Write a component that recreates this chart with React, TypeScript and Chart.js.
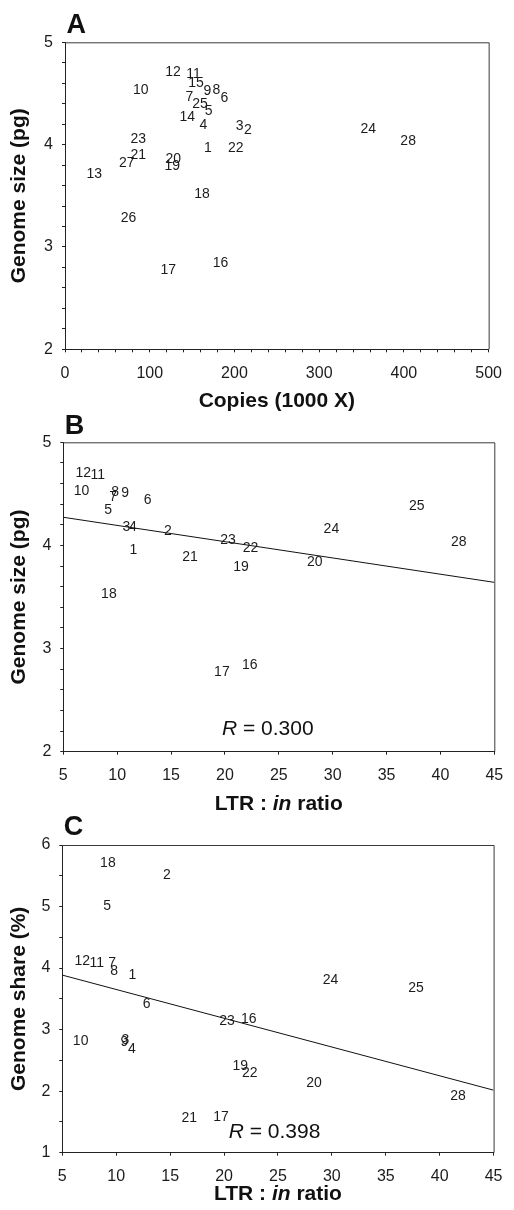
import React, { useEffect, useRef } from "react";
import { Chart, registerables } from "chart.js";

Chart.register(...registerables);

const FONT = '"Liberation Sans", Arial, Helvetica, sans-serif';
const INK = "#1c1c1c";

// ---------- Panel A: copies vs genome size ----------
const idsA = [1, 2, 3, 4, 5, 6, 7, 8, 9, 10, 11, 12, 13, 14, 15, 16, 17, 18, 19, 20, 21, 22, 23, 24, 25, 26, 27, 28];
const copiesA = [168.5, 215.8, 206.2, 163.2, 169.4, 188, 146.7, 178.6, 168, 89.5, 151.7, 127.5, 34.6, 144.4, 154.7, 183.5, 121.8, 161.6, 126.7, 127.9, 86.4, 201.6, 86.4, 358, 159.4, 74.9, 73, 405];
const sizeA = [3.97, 4.14, 4.18, 4.19, 4.33, 4.45, 4.46, 4.53, 4.52, 4.53, 4.69, 4.71, 3.71, 4.27, 4.6, 2.84, 2.77, 3.52, 3.79, 3.86, 3.9, 3.97, 4.05, 4.15, 4.4, 3.28, 3.82, 4.03];

// ---------- Panels B & C: LTR : in ratio ----------
const idsBC = [1, 2, 3, 4, 5, 6, 7, 8, 9, 10, 11, 12, 16, 17, 18, 19, 20, 21, 22, 23, 24, 25, 28];
const ratioBC = [11.5, 14.7, 10.85, 11.46, 9.16, 12.83, 9.62, 9.8, 10.75, 6.7, 8.2, 6.85, 22.3, 19.72, 9.23, 21.5, 28.34, 16.77, 22.38, 20.28, 29.88, 37.8, 41.7];
const sizeB = [3.955, 4.14, 4.18, 4.18, 4.34, 4.44, 4.47, 4.52, 4.51, 4.53, 4.68, 4.705, 2.84, 2.77, 3.53, 3.79, 3.84, 3.89, 3.97, 4.05, 4.16, 4.385, 4.03];
const shareC = [3.89, 5.51, 2.83, 2.68, 5.0, 3.41, 4.08, 3.95, 2.79, 2.81, 4.08, 4.11, 3.17, 1.57, 5.71, 2.41, 2.135, 1.555, 2.3, 3.13, 3.8, 3.67, 1.92];

// regression lines (end points)
const fitX = [5, 45];
const fitYB = [4.273, 3.642];
const fitYC = [3.886, 2.016];

const rTextB = "0.300";
const rTextC = "0.398";

const isInt = (v: number) => Math.abs(v - Math.round(v)) < 1e-6;
const isMult = (v: number, m: number) => Math.abs(v / m - Math.round(v / m)) < 1e-6;

const pointLabelPlugin = {
  id: "pointLabels",
  afterDatasetsDraw(chart: any) {
    const ctx = chart.ctx;
    chart.data.datasets.forEach((ds: any, i: number) => {
      if (!ds.pointLabels) return;
      const meta = chart.getDatasetMeta(i);
      ctx.save();
      ctx.font = `14px ${FONT}`;
      ctx.fillStyle = INK;
      ctx.textAlign = "center";
      ctx.textBaseline = "middle";
      meta.data.forEach((el: any, j: number) => {
        ctx.fillText(String(ds.pointLabels[j]), el.x, el.y);
      });
      ctx.restore();
    });
  },
};

type Part = { text: string; italic?: boolean; bold?: boolean; size: number };

function drawRich(ctx: CanvasRenderingContext2D, parts: Part[], x: number, y: number, align: "center" | "left") {
  const fontOf = (p: Part) => `${p.italic ? "italic " : ""}${p.bold ? "bold " : ""}${p.size}px ${FONT}`;
  let total = 0;
  parts.forEach((p) => {
    ctx.font = fontOf(p);
    total += ctx.measureText(p.text).width;
  });
  let cx = align === "center" ? x - total / 2 : x;
  ctx.textAlign = "left";
  ctx.textBaseline = "alphabetic";
  parts.forEach((p) => {
    ctx.font = fontOf(p);
    ctx.fillText(p.text, cx, y);
    cx += ctx.measureText(p.text).width;
  });
}

const decorPlugin = {
  id: "decor",
  afterDraw(chart: any, _args: any, opts: any) {
    const { ctx, chartArea: ca } = chart;
    ctx.save();
    // frame
    ctx.strokeStyle = "#3a3a3a";
    ctx.lineWidth = 1;
    ctx.beginPath();
    ctx.moveTo(ca.left, ca.top + 0.5);
    ctx.lineTo(ca.right + 0.5, ca.top + 0.5);
    ctx.lineTo(ca.right + 0.5, ca.bottom);
    ctx.stroke();
    // panel letter
    ctx.fillStyle = "#111";
    ctx.font = `bold 27px ${FONT}`;
    ctx.textAlign = "left";
    ctx.textBaseline = "alphabetic";
    ctx.fillText(opts.letter, ca.left + 1.5, ca.top - opts.letterGap);
    // x axis title
    drawRich(ctx, opts.xTitle, (ca.left + ca.right) / 2, ca.bottom + opts.xTitleGap, "center");
    // R annotation
    if (opts.rValue) {
      const px = chart.scales.x.getPixelForValue(opts.rAt[0]);
      const py = chart.scales.y.getPixelForValue(opts.rAt[1]);
      drawRich(
        ctx,
        [
          { text: "R", italic: true, size: 21 },
          { text: " = " + opts.rValue, size: 21 },
        ],
        px,
        py,
        "left"
      );
    }
    ctx.restore();
  },
};

function axisFont(size: number, bold = false) {
  return { family: FONT, size, weight: bold ? ("bold" as const) : ("normal" as const) };
}

function makeConfig(p: {
  xMin: number; xMax: number; xStep: number; xMajor: number;
  yMin: number; yMax: number; yStep: number;
  yWidth: number; xHeight: number; xTickPad: number;
  padTop: number; padRight: number;
  yTitle: string;
  datasets: any[];
  decor: any;
}) {
  return {
    type: "scatter" as const,
    data: { datasets: p.datasets },
    plugins: [pointLabelPlugin, decorPlugin],
    options: {
      animation: false as const,
      responsive: false,
      devicePixelRatio: 1,
      layout: { padding: { top: p.padTop, right: p.padRight, left: 0, bottom: 0 } },
      plugins: {
        legend: { display: false },
        tooltip: { enabled: false },
        decor: p.decor,
      },
      scales: {
        x: {
          type: "linear" as const,
          min: p.xMin,
          max: p.xMax,
          afterFit(s: any) { s.height = p.xHeight; },
          ticks: {
            stepSize: p.xStep,
            autoSkip: false,
            maxRotation: 0,
            padding: p.xTickPad,
            color: INK,
            font: axisFont(16),
            callback: (v: any) => (isMult(Number(v), p.xMajor) ? String(Math.round(Number(v))) : ""),
          },
          grid: { drawOnChartArea: false, tickLength: 3, color: "#222" },
          border: { color: "#222", width: 1 },
          title: { display: false },
        },
        y: {
          type: "linear" as const,
          min: p.yMin,
          max: p.yMax,
          afterFit(s: any) { s.width = p.yWidth; },
          ticks: {
            stepSize: p.yStep,
            autoSkip: false,
            padding: 9,
            color: INK,
            font: axisFont(16),
            callback: (v: any) => (isInt(Number(v)) ? String(Math.round(Number(v))) : ""),
          },
          grid: { drawOnChartArea: false, tickLength: 3, color: "#222" },
          border: { color: "#222", width: 1 },
          title: {
            display: true,
            text: p.yTitle,
            color: "#111",
            font: axisFont(21, true),
            padding: { top: 7, bottom: 0 },
          },
        },
      },
    },
  };
}

function labelsDataset(xs: number[], ys: number[], ids: number[]) {
  return {
    data: xs.map((x, i) => ({ x, y: ys[i] })),
    pointRadius: 0,
    pointHoverRadius: 0,
    showLine: false,
    pointLabels: ids,
  };
}

function fitDataset(ys: number[]) {
  return {
    data: fitX.map((x, i) => ({ x, y: ys[i] })),
    showLine: true,
    borderColor: "#111",
    borderWidth: 1,
    pointRadius: 0,
    pointHoverRadius: 0,
    fill: false,
  };
}

const ltrTitle: Part[] = [
  { text: "LTR : ", bold: true, size: 21 },
  { text: "in", bold: true, italic: true, size: 21 },
  { text: " ratio", bold: true, size: 21 },
];

function Panel({ top, height, config }: { top: number; height: number; config: any }) {
  const ref = useRef<HTMLCanvasElement | null>(null);
  useEffect(() => {
    if (!ref.current) return;
    const chart = new Chart(ref.current, config);
    return () => chart.destroy();
  }, [config]);
  return (
    <canvas
      ref={ref}
      width={514}
      height={height}
      style={{ position: "absolute", left: 0, top, width: 514, height, display: "block" }}
    />
  );
}

const configA = makeConfig({
  xMin: 0, xMax: 500, xStep: 20, xMajor: 100,
  yMin: 2, yMax: 5, yStep: 0.2,
  yWidth: 65, xHeight: 415 - 349.3, xTickPad: 12,
  padTop: 42.3, padRight: 15,
  yTitle: "Genome size (pg)",
  datasets: [labelsDataset(copiesA, sizeA, idsA)],
  decor: {
    letter: "A",
    letterGap: 9,
    xTitle: [{ text: "Copies (1000 X)", bold: true, size: 21 }],
    xTitleGap: 58,
  },
});

const configB = makeConfig({
  xMin: 5, xMax: 45, xStep: 5, xMajor: 5,
  yMin: 2, yMax: 5, yStep: 0.2,
  yWidth: 63.3, xHeight: 400 - 336.7, xTickPad: 10.8,
  padTop: 27.3, padRight: 17,
  yTitle: "Genome size (pg)",
  datasets: [fitDataset(fitYB), labelsDataset(ratioBC, sizeB, idsBC)],
  decor: {
    letter: "B",
    letterGap: 8,
    xTitle: ltrTitle,
    xTitleGap: 58.3,
    rValue: rTextB,
    rAt: [19.72, 2.161],
  },
});

const configC = makeConfig({
  xMin: 5, xMax: 45, xStep: 5, xMajor: 5,
  yMin: 1, yMax: 6, yStep: 0.5,
  yWidth: 62.3, xHeight: 395 - 337.7, xTickPad: 11.5,
  padTop: 30, padRight: 19,
  yTitle: "Genome share (%)",
  datasets: [fitDataset(fitYC), labelsDataset(ratioBC, shareC, idsBC)],
  decor: {
    letter: "C",
    letterGap: 10,
    xTitle: ltrTitle,
    xTitleGap: 47.3,
    rValue: rTextC,
    rAt: [20.43, 1.231],
  },
});

export default function App() {
  return (
    <div style={{ position: "absolute", left: 0, top: 0, width: 514, height: 1210, background: "#fff", overflow: "hidden" }}>
      <Panel top={0} height={415} config={configA} />
      <Panel top={415} height={400} config={configB} />
      <Panel top={815} height={395} config={configC} />
    </div>
  );
}
